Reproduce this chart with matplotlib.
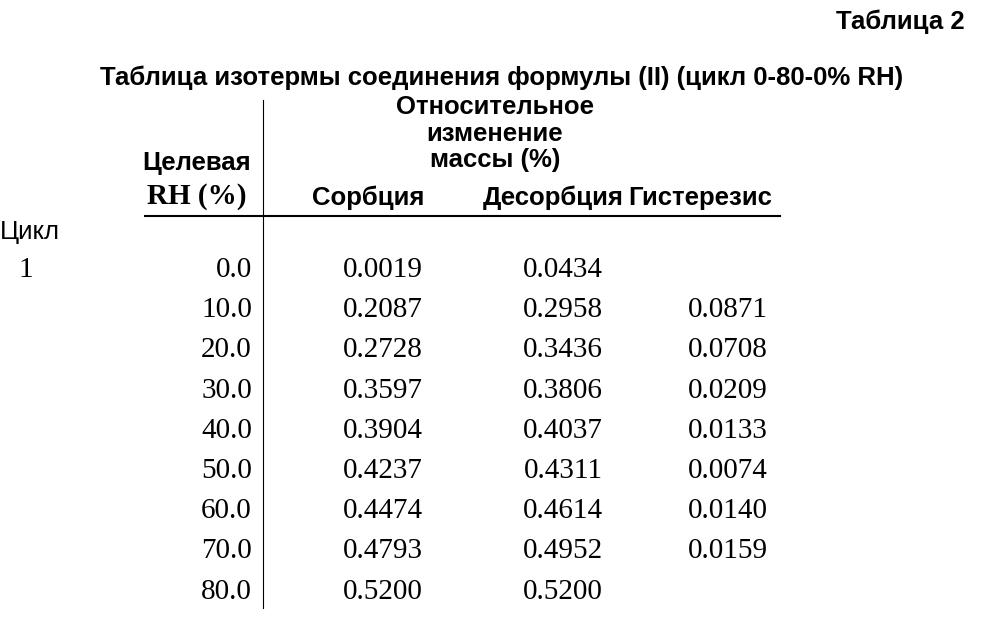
import matplotlib.pyplot as plt

rh = ["0.0", "10.0", "20.0", "30.0", "40.0", "50.0", "60.0", "70.0", "80.0"]
sorption = ["0.0019", "0.2087", "0.2728", "0.3597", "0.3904", "0.4237", "0.4474", "0.4793", "0.5200"]
desorption = ["0.0434", "0.2958", "0.3436", "0.3806", "0.4037", "0.4311", "0.4614", "0.4952", "0.5200"]
hysteresis = ["", "0.0871", "0.0708", "0.0209", "0.0133", "0.0074", "0.0140", "0.0159", ""]

W, H = 999, 632
fig = plt.figure(figsize=(W / 100, H / 100), dpi=100)
ax = fig.add_axes([0, 0, 1, 1])
ax.set_xlim(0, W)
ax.set_ylim(H, 0)
ax.axis('off')

sans = dict(family='Liberation Sans', fontweight='bold', fontsize=18.5)
serif = dict(family='Liberation Serif', fontsize=21)

ax.text(965, 22, "Таблица 2", ha='right', va='center', **sans)
ax.text(502, 78, "Таблица изотермы соединения формулы (II) (цикл 0-80-0% RH)", ha='center', va='center', **sans)

ax.text(495, 107, "Относительное", ha='center', va='center', **sans)
ax.text(495, 134, "изменение", ha='center', va='center', **sans)
ax.text(495, 160, "массы (%)", ha='center', va='center', **sans)
ax.text(197, 163, "Целевая", ha='center', va='center', **sans)
ax.text(197, 196, "RH (%)", ha='center', va='center', family='Liberation Serif', fontweight='bold', fontsize=21)
ax.text(368, 198, "Сорбция", ha='center', va='center', **sans)
ax.text(553, 198, "Десорбция", ha='center', va='center', **sans)
ax.text(700, 198, "Гистерезис", ha='center', va='center', **sans)

ax.text(0, 232, "Цикл", ha='left', va='center', family='Liberation Sans', fontsize=18.5)
ax.text(18, 270, "1", ha='left', va='center', **serif)

ax.plot([263, 263], [100, 608], color='black', lw=0.8)
ax.plot([145, 780], [216, 216], color='black', lw=1.5)

y0, dy = 270, 40.2
for i in range(len(rh)):
    y = y0 + i * dy
    ax.text(252, y, rh[i], ha='right', va='center', **serif)
    ax.text(383, y, sorption[i], ha='center', va='center', **serif)
    ax.text(563, y, desorption[i], ha='center', va='center', **serif)
    ax.text(728, y, hysteresis[i], ha='center', va='center', **serif)

fig.savefig('out.png', dpi=100)
